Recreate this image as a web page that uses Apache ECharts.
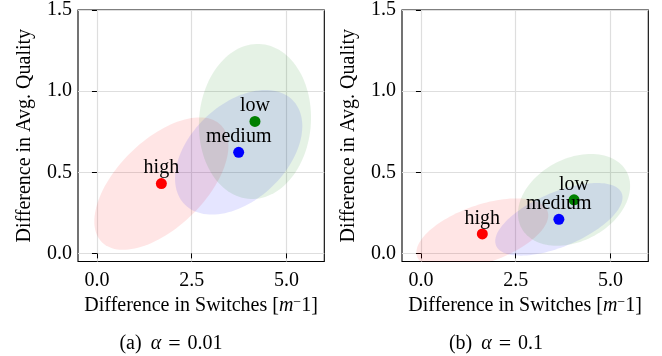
<!DOCTYPE html>
<html>
<head>
<meta charset="utf-8">
<title>Switches vs. quality by preference level</title>
<script src="https://cdn.jsdelivr.net/npm/echarts@6/dist/echarts.min.js"></script>
<style>
  html, body { margin: 0; padding: 0; background: #fff; }
  #chart { width: 662px; height: 356px; }
</style>
</head>
<body>
<div id="chart"></div>
<script>
// Preference levels shown in both panels
const levels = ['high', 'medium', 'low'];

// Panel (a): alpha = 0.01 — mean differences and spread (std-scaled half extents, correlation)
const switchesA = [1.70, 3.74, 4.17];
const qualityA  = [0.43, 0.623, 0.813];
const spreadXA  = [1.77, 1.68, 1.48];
const spreadYA  = [0.408, 0.384, 0.478];
const corrA     = [0.57, 0.42, 0.05];

// Panel (b): alpha = 0.1
const switchesB = [1.62, 3.64, 4.04];
const qualityB  = [0.12, 0.21, 0.33];
const spreadXB  = [1.74, 1.68, 1.48];
const spreadYB  = [0.219, 0.224, 0.283];
const corrB     = [0.52, 0.60, 0.30];

// Tick positions
const ticksX = [0, 2.5, 5];
const ticksY = [0, 0.5, 1, 1.5];

const captionTags = ['(a)', '(b)'];
const captionAlpha = ['0.01', '0.1'];

const pointColors = ['#ff0000', '#0000ff', '#008000'];
const fillColors = ['rgba(255,0,0,0.1)', 'rgba(0,0,255,0.1)', 'rgba(0,128,0,0.1)'];
const FONT = '"Liberation Serif", "Times New Roman", serif';

// Confidence-ellipse outline in data space: unit circle stretched by the
// correlation, turned 45 degrees, then scaled by the spreads around the mean.
function ellipseOutline(cx, cy, sx, sy, rho, n) {
  const a = Math.sqrt(1 + rho), b = Math.sqrt(1 - rho);
  const pts = [];
  for (let i = 0; i < n; i++) {
    const t = (2 * Math.PI * i) / n;
    const u = a * Math.cos(t), v = b * Math.sin(t);
    pts.push([cx + sx * (u - v) / Math.SQRT2, cy + sy * (u + v) / Math.SQRT2]);
  }
  return pts;
}

function ellipseSeries(idx, xs, ys, sxs, sys, rhos) {
  return {
    type: 'custom',
    xAxisIndex: idx,
    yAxisIndex: idx,
    z: 1,
    silent: true,
    data: levels.map((_, i) => [xs[i], ys[i], sxs[i], sys[i], rhos[i]]),
    encode: { x: 0, y: 1 },
    renderItem: function (params, api) {
      const outline = ellipseOutline(api.value(0), api.value(1), api.value(2), api.value(3), api.value(4), 120);
      const cs = params.coordSys;
      return {
        type: 'polygon',
        shape: { points: outline.map(p => api.coord(p)) },
        style: { fill: fillColors[params.dataIndex], stroke: null },
        clipPath: { type: 'rect', shape: { x: cs.x, y: cs.y, width: cs.width, height: cs.height } }
      };
    }
  };
}

function pointSeries(idx, xs, ys) {
  return {
    type: 'scatter',
    xAxisIndex: idx,
    yAxisIndex: idx,
    z: 3,
    symbolSize: 11,
    itemStyle: { opacity: 1 },
    data: levels.map((name, i) => ({
      name: name,
      value: [xs[i], ys[i]],
      itemStyle: { color: pointColors[i], opacity: 1 }
    })),
    label: {
      show: true,
      position: 'top',
      distance: 0,
      formatter: '{b}',
      fontFamily: FONT,
      fontSize: 20,
      color: '#000'
    }
  };
}

function xAxisFor(idx) {
  return {
    type: 'value',
    gridIndex: idx,
    min: -0.5,
    max: 6,
    name: '{n|Difference in Switches [}{it|m}{sup|−}{n|1]}',
    nameLocation: 'middle',
    nameGap: 29,
    nameTextStyle: {
      fontFamily: FONT, fontSize: 20, color: '#000',
      rich: {
        n: { fontFamily: FONT, fontSize: 20, color: '#000' },
        it: { fontFamily: FONT, fontSize: 20, fontStyle: 'italic', color: '#000' },
        sup: { fontFamily: FONT, fontSize: 14, color: '#000', verticalAlign: 'top', lineHeight: 14 }
      }
    },
    axisLine: { show: false },
    axisTick: { show: true, length: 5, lineStyle: { color: '#000', width: 1 }, customValues: ticksX },
    axisLabel: {
      customValues: ticksX,
      formatter: v => v.toFixed(1),
      fontFamily: FONT, fontSize: 20, color: '#000', margin: 9
    },
    splitLine: { show: true, lineStyle: { color: '#dedede', width: 1.2 } }
  };
}

function yAxisFor(idx) {
  return {
    type: 'value',
    gridIndex: idx,
    min: -0.05,
    max: 1.5,
    name: 'Difference in Avg. Quality',
    nameLocation: 'middle',
    nameRotate: 90,
    nameGap: 43,
    nameTextStyle: { fontFamily: FONT, fontSize: 20, color: '#000' },
    axisLine: { show: false },
    axisTick: { show: true, length: 5, lineStyle: { color: '#000', width: 1 }, customValues: ticksY },
    axisLabel: {
      customValues: ticksY,
      formatter: v => v.toFixed(1),
      fontFamily: FONT, fontSize: 20, color: '#000', margin: 6
    },
    splitLine: { show: true, lineStyle: { color: '#dedede', width: 1.2 } }
  };
}

const gridBox = { top: 9, height: 252.5, width: 246.3, show: true, borderColor: '#000', borderWidth: 1.1, backgroundColor: 'transparent' };

const chart = echarts.init(document.getElementById('chart'), null, { renderer: 'canvas' });
chart.setOption({
  animation: false,
  backgroundColor: '#fff',
  grid: [
    Object.assign({ left: 78 }, gridBox),
    Object.assign({ left: 402 }, gridBox)
  ],
  xAxis: [xAxisFor(0), xAxisFor(1)],
  yAxis: [yAxisFor(0), yAxisFor(1)],
  series: [
    ellipseSeries(0, switchesA, qualityA, spreadXA, spreadYA, corrA),
    pointSeries(0, switchesA, qualityA),
    ellipseSeries(1, switchesB, qualityB, spreadXB, spreadYB, corrB),
    pointSeries(1, switchesB, qualityB)
  ],
  // Sub-figure captions, with math-style spacing around the italic alpha and "="
  graphic: captionTags.map((tag, i) => ({
    type: 'text',
    x: i === 0 ? 171 : 496,
    y: 344,
    style: {
      text: '{n|' + tag + '}{it|α}{eq|=}{n|' + captionAlpha[i] + '}',
      align: 'center',
      verticalAlign: 'middle',
      fontFamily: FONT,
      fontSize: 20,
      fill: '#000',
      rich: {
        n: { fontFamily: FONT, fontSize: 20, fill: '#000' },
        it: { fontFamily: FONT, fontSize: 20, fontStyle: 'italic', fill: '#000', padding: [0, 0, 0, 9] },
        eq: { fontFamily: FONT, fontSize: 22, fill: '#000', padding: [0, 7, 0, 7] }
      }
    }
  }))
});
</script>
</body>
</html>
